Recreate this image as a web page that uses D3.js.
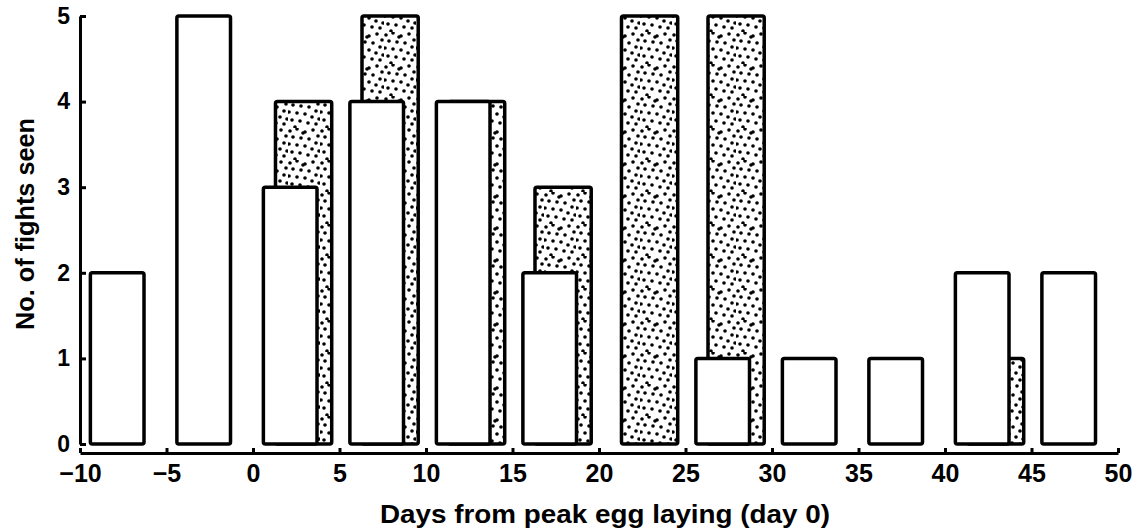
<!DOCTYPE html>
<html>
<head>
<meta charset="utf-8">
<script src="https://cdn.jsdelivr.net/npm/d3@7"></script>
<style>
  body { margin: 0; background: #fff; }
  svg { display: block; font-family: "Liberation Sans", Arial, sans-serif; font-weight: bold; }
</style>
</head>
<body>
<div id="chart"></div>
<script>
(function () {

    // 5-day bins, start day of each bin
    var binStart = [-10, -5, 0, 5, 10, 15, 20, 25, 30, 35, 40, 45];
    // open bars
    var openCounts = [2, 5, 3, 4, 4, 2, 0, 1, 1, 1, 2, 2];
    // stippled bars
    var stippleCounts = [0, 0, 4, 5, 4, 3, 5, 5, 0, 0, 1, 0];
    var xTicks = [-10, -5, 0, 5, 10, 15, 20, 25, 30, 35, 40, 45, 50];
    var yTicks = [0, 1, 2, 3, 4, 5];

    var width = 1140, height = 529;

    var x = d3.scaleLinear().domain([-10, 50]).range([80, 1118]),
        y = d3.scaleLinear().domain([0, 5]).range([444, 16]);

    var svg = d3.select("#chart").append("svg")
        .attr("width", width).attr("height", height);

    // stipple texture (hand placed, irregular)
    var dots = [[2, 3], [9, 1], [17, 4], [25, 2], [30, 8], [5, 9], [13, 10], [21, 11],
                [28, 15], [1, 16], [9, 17], [17, 18], [24, 21], [4, 24], [12, 25],
                [20, 27], [28, 28], [7, 31], [15, 5], [31, 23]];
    var pat = svg.append("defs").append("pattern")
        .attr("id", "stipple")
        .attr("patternUnits", "userSpaceOnUse")
        .attr("width", 32).attr("height", 32);
    pat.append("rect").attr("width", 32).attr("height", 32).attr("fill", "#fff");
    pat.selectAll("circle").data(dots).enter().append("circle")
        .attr("cx", function (d) { return d[0]; })
        .attr("cy", function (d) { return d[1]; })
        .attr("r", 1.8)
        .attr("fill", "#000");

    var stippled = binStart.map(function (b, i) { return {b: b, v: stippleCounts[i]}; })
        .filter(function (d) { return d.v > 0; });
    var open = binStart.map(function (b, i) { return {b: b, v: openCounts[i]}; })
        .filter(function (d) { return d.v > 0; });

    svg.selectAll(".stip")
        .data(stippled)
        .enter().append("rect")
        .attr("class", "stip")
        .attr("x", function (d) { return x(d.b + 1.3); })
        .attr("width", function (d) { return x(d.b + 4.55) - x(d.b + 1.3); })
        .attr("y", function (d) { return y(d.v); })
        .attr("height", function (d) { return y(0) - y(d.v); })
        .attr("rx", 2)
        .style("fill", "url(#stipple)")
        .style("stroke", "#000")
        .style("stroke-width", 3.5);

    svg.selectAll(".open")
        .data(open)
        .enter().append("rect")
        .attr("class", "open")
        .attr("x", function (d) { return x(d.b + 0.6); })
        .attr("width", function (d) { return x(d.b + 3.7) - x(d.b + 0.6); })
        .attr("y", function (d) { return y(d.v); })
        .attr("height", function (d) { return y(0) - y(d.v); })
        .attr("rx", 2)
        .style("fill", "#fff")
        .style("stroke", "#000")
        .style("stroke-width", 3.5);

    // axes
    var yAxis = svg.append("g")
        .attr("transform", "translate(80,0)")
        .call(d3.axisLeft(y).tickValues(yTicks).tickFormat(d3.format("d"))
            .tickSizeInner(-6).tickSizeOuter(0).tickPadding(10));

    var xAxis = svg.append("g")
        .attr("transform", "translate(0,453)")
        .call(d3.axisBottom(x).tickValues(xTicks).tickFormat(d3.format("d"))
            .tickSizeInner(-5).tickSizeOuter(0).tickPadding(11));

    [yAxis, xAxis].forEach(function (g) {
        g.select(".domain").style("stroke", "#000").style("stroke-width", 3);
        g.selectAll(".tick line").style("stroke", "#000").style("stroke-width", 3);
        g.selectAll(".tick text")
            .style("fill", "#000")
            .style("font-family", "'Liberation Sans', Arial, sans-serif")
            .style("font-weight", "bold");
    });
    yAxis.selectAll(".tick text").style("font-size", "23px");
    xAxis.selectAll(".tick text").style("font-size", "25px");

    svg.append("text")
        .attr("x", 605).attr("y", 523)
        .attr("text-anchor", "middle")
        .attr("textLength", 450)
        .attr("lengthAdjust", "spacingAndGlyphs")
        .style("font-size", "26px")
        .text("Days from peak egg laying (day 0)");

    svg.append("text")
        .attr("transform", "translate(34,224) rotate(-90)")
        .attr("text-anchor", "middle")
        .attr("textLength", 212)
        .attr("lengthAdjust", "spacingAndGlyphs")
        .style("font-size", "25px")
        .text("No. of fights seen");

}());
</script>
</body>
</html>
